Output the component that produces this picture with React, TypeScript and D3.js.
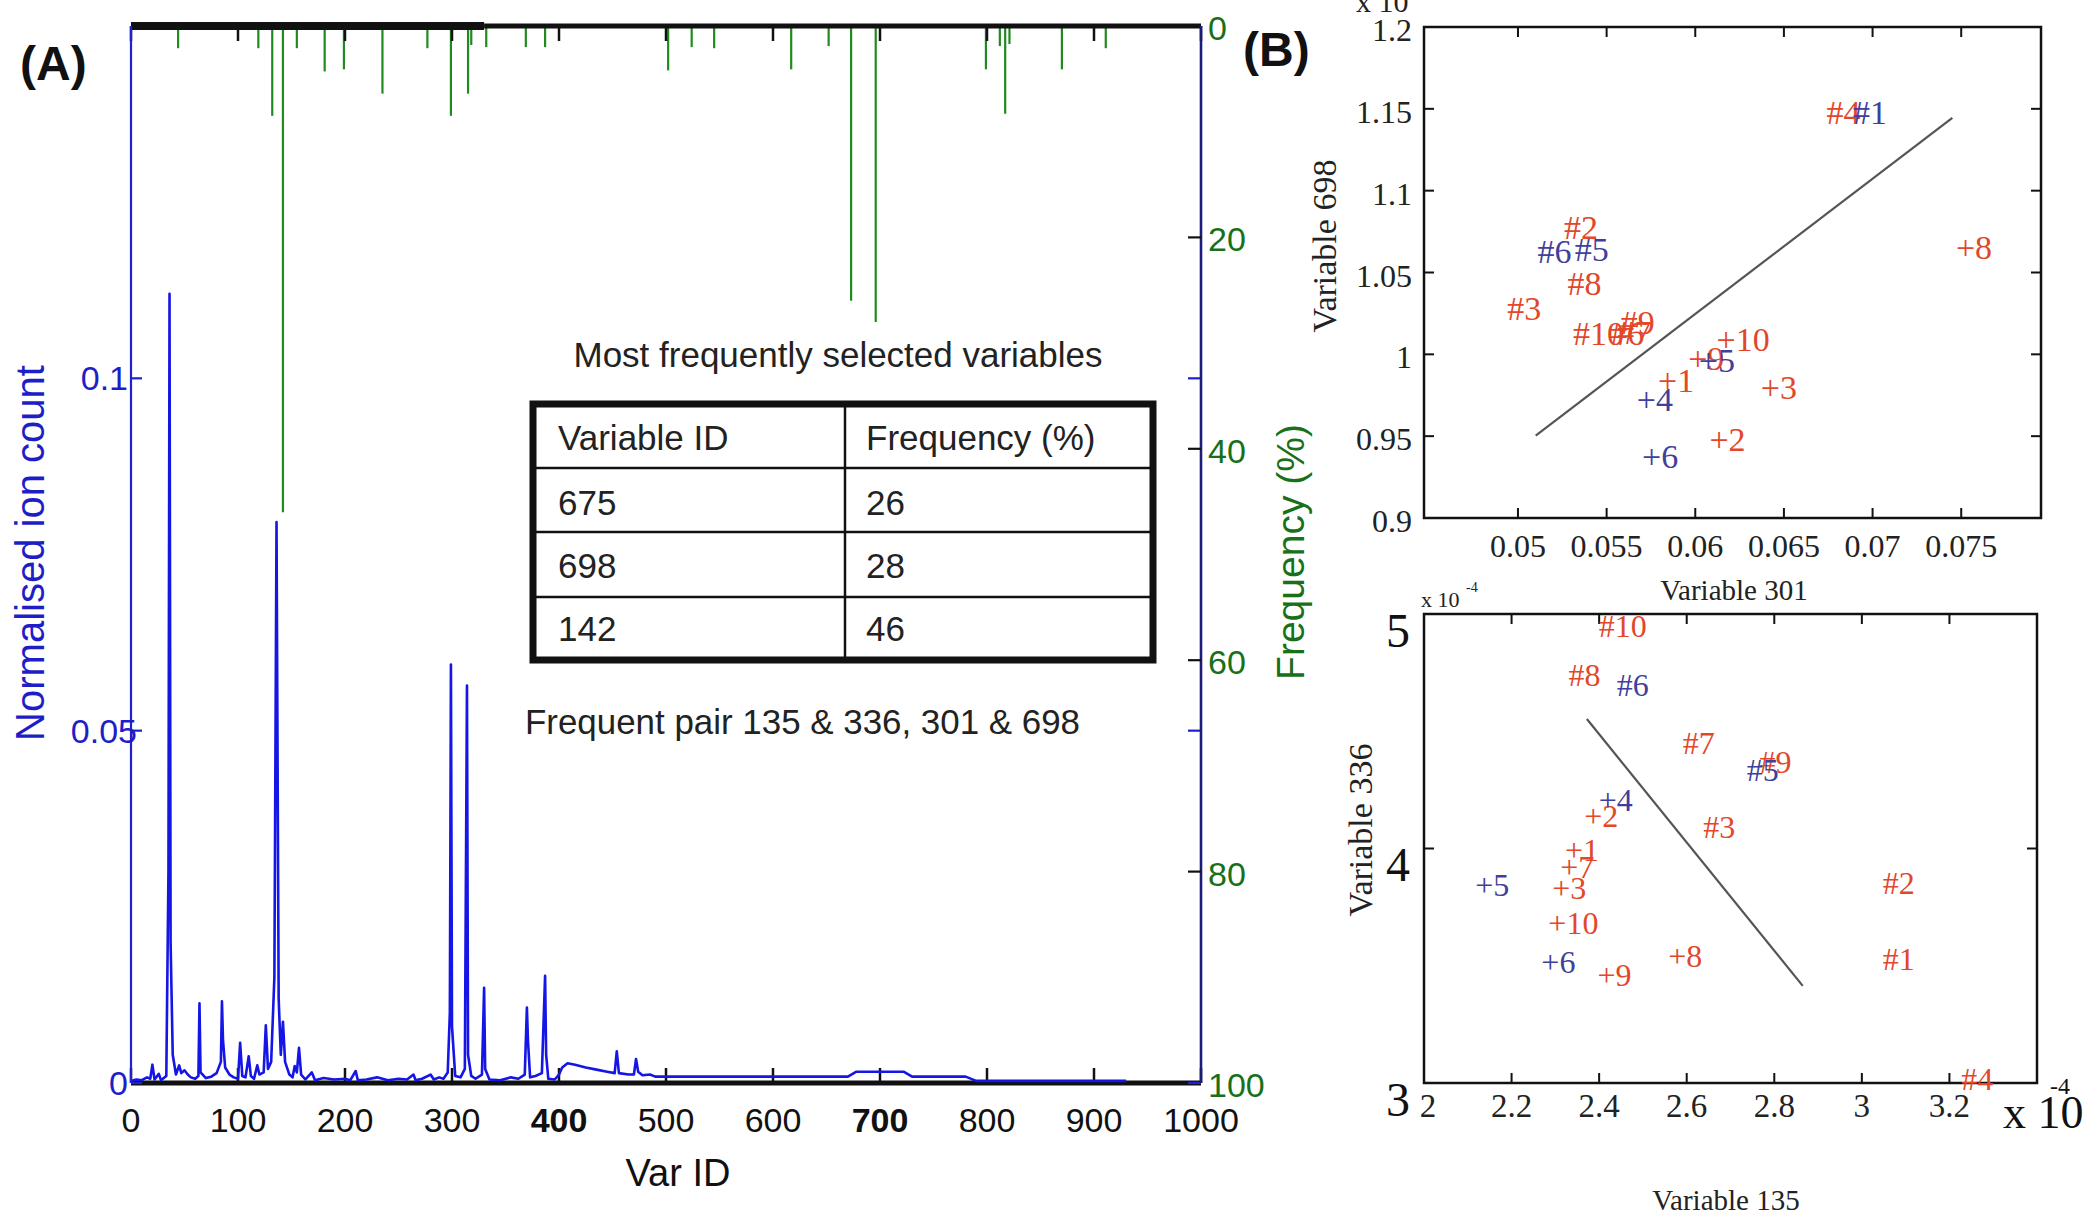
import React, { useEffect } from 'react';
import * as d3 from 'd3';

// Panel A: normalised ion count trace, [var id, value]
const ionTrace: [number, number][] = [
  [0, 0.0003], [5, 0.0005], [10, 0.0004], [15, 0.0008], [18, 0.0006], [20, 0.0026], [22, 0.0005],
  [26, 0.0013], [28, 0.0004], [33, 0.001], [35, 0.03], [36, 0.112], [37, 0.02], [39, 0.004],
  [42, 0.0012], [45, 0.0025], [47, 0.0014], [50, 0.0018], [53, 0.0012], [56, 0.0008], [60, 0.0006],
  [63, 0.001], [64, 0.0113], [65, 0.0015], [70, 0.0007], [75, 0.0009], [80, 0.0014], [84, 0.003],
  [85, 0.0116], [86, 0.006], [88, 0.0022], [92, 0.0012], [96, 0.0008], [100, 0.0006], [102, 0.0057],
  [104, 0.001], [107, 0.0008], [110, 0.0038], [112, 0.001], [115, 0.0006], [118, 0.0025], [120, 0.0012],
  [124, 0.0015], [126, 0.0082], [128, 0.002], [131, 0.003], [134, 0.015], [136, 0.0796], [138, 0.012],
  [140, 0.004], [142, 0.0087], [144, 0.003], [148, 0.0012], [151, 0.0008], [153, 0.0024], [155, 0.0015],
  [157, 0.005], [159, 0.0012], [163, 0.0005], [169, 0.0015], [172, 0.0004], [180, 0.0007], [190, 0.0005],
  [200, 0.0006], [205, 0.0004], [210, 0.0017], [212, 0.0004], [220, 0.0005], [230, 0.0008], [240, 0.0004],
  [250, 0.0006], [258, 0.0005], [264, 0.0012], [266, 0.0004], [272, 0.0006], [280, 0.0012], [283, 0.0005],
  [288, 0.0008], [292, 0.0006], [296, 0.0015], [298, 0.01], [299, 0.0594], [300, 0.008], [303, 0.001],
  [308, 0.0008], [312, 0.002], [314, 0.0564], [315, 0.004], [318, 0.001], [322, 0.0006], [328, 0.0012],
  [330, 0.0135], [331, 0.002], [335, 0.0005], [345, 0.0004], [355, 0.0008], [362, 0.0006], [368, 0.0012],
  [370, 0.0107], [371, 0.006], [373, 0.0008], [378, 0.001], [384, 0.0014], [387, 0.0152], [388, 0.004],
  [390, 0.0006], [396, 0.0005], [400, 0.0012], [403, 0.0022], [408, 0.0028], [415, 0.0026], [425, 0.0022],
  [435, 0.0019], [445, 0.0016], [452, 0.0014], [454, 0.0045], [456, 0.0014], [465, 0.0012], [470, 0.0012],
  [472, 0.0034], [474, 0.0016], [478, 0.0011], [485, 0.0012], [490, 0.0009], [500, 0.0009], [670, 0.0009],
  [678, 0.0016], [722, 0.0016], [730, 0.0009], [780, 0.0009], [790, 0.0003], [930, 0.0003],
];

// Panel A: selection frequency, [var id, %]
const freqSpikes: [number, number][] = [
  [44, 2.1], [119, 2.1], [132, 8.5], [142, 46], [155, 2.1], [181, 4.3], [199, 4.1], [235, 6.4],
  [277, 2.1], [299, 8.5], [315, 6.4], [318, 1.8], [332, 2.0], [369, 2.0], [387, 2.0], [502, 4.2],
  [524, 2.0], [545, 2.1], [617, 4.1], [652, 1.9], [673, 26], [696, 28], [799, 4.1], [812, 1.9],
  [817, 8.3], [821, 1.7], [870, 4.1], [911, 2.1],
];

const varTicks = [0, 100, 200, 300, 400, 500, 600, 700, 800, 900, 1000];
const ionTicks = [0, 0.05, 0.1];
const freqTicks = [0, 20, 40, 60, 80, 100];

const tableHeader = ['Variable ID', 'Frequency (%)'];
const tableRows = [['675', '26'], ['698', '28'], ['142', '46']];

// Panel B top: Variable 301 vs Variable 698
const b1XTicks = [0.05, 0.055, 0.06, 0.065, 0.07, 0.075];
const b1YTicks = [0.9, 0.95, 1, 1.05, 1.1, 1.15, 1.2];
const b1Red: [string, number, number][] = [
  ['#4', 0.0674, 1.148], ['#2', 0.0526, 1.0774], ['#8', 0.0528, 1.043], ['#3', 0.0494, 1.028],
  ['#10', 0.0531, 1.0125], ['#6', 0.0552, 1.0125], ['#7', 0.0556, 1.0136], ['#9', 0.0558, 1.0195],
  ['+10', 0.0612, 1.0089], ['+9', 0.0596, 0.9972], ['+1', 0.0579, 0.9843], ['+3', 0.0637, 0.9796],
  ['+2', 0.0608, 0.948], ['+8', 0.0747, 1.0652],
];
const b1Blue: [string, number, number][] = [
  ['#1', 0.0689, 1.148], ['#6', 0.0511, 1.0629], ['#5', 0.0532, 1.064],
  ['+5', 0.0602, 0.996], ['+4', 0.0567, 0.9726], ['+6', 0.057, 0.9374],
];
const b1Line: [number, number][] = [[0.051, 0.9504], [0.0745, 1.1444]];

// Panel B bottom: Variable 135 vs Variable 336 (x 10^-4)
const b2XTicks = [2, 2.2, 2.4, 2.6, 2.8, 3, 3.2];
const b2YTicks = [3, 4, 5];
const b2Red: [string, number, number][] = [
  ['#10', 2.399, 4.948], ['#8', 2.33, 4.741], ['#7', 2.591, 4.448], ['#9', 2.766, 4.371],
  ['+2', 2.366, 4.138], ['#3', 2.638, 4.091], ['+1', 2.322, 3.995], ['+7', 2.311, 3.919],
  ['+3', 2.293, 3.833], ['#2', 3.048, 3.853], ['+10', 2.284, 3.684], ['+8', 2.558, 3.543],
  ['#1', 3.048, 3.529], ['+9', 2.396, 3.46], ['#4', 3.227, 3.017],
];
const b2Blue: [string, number, number][] = [
  ['#6', 2.44, 4.698], ['#5', 2.737, 4.336], ['+4', 2.399, 4.207], ['+5', 2.117, 3.845], ['+6', 2.268, 3.517],
];
const b2Line: [number, number][] = [[2.372, 4.552], [2.865, 3.414]];

const SANS = '"Liberation Sans", Arial, sans-serif';
const SERIF = '"Liberation Serif", "Times New Roman", serif';
const RED = '#e2472a';
const NAVY = '#3f3f9c';

const App = () => {
  useEffect(() => {
    document.body.style.margin = '0';
  }, []);

  // panel A scales
  const xA = d3.scaleLinear().domain([0, 1000]).range([131, 1201]);
  const yA = d3.scaleLinear().domain([0, 0.15]).range([1083, 26]);
  const yF = d3.scaleLinear().domain([0, 100]).range([26, 1083]);
  const ionLine = d3.line<[number, number]>().x(d => xA(d[0])).y(d => yA(d[1]));

  // panel B scales
  const xB1 = d3.scaleLinear().domain([0.0447, 0.0795]).range([1424, 2041]);
  const yB1 = d3.scaleLinear().domain([0.9, 1.2]).range([518, 27]);
  const xB2 = d3.scaleLinear().domain([2, 3.4]).range([1424, 2037]);
  const yB2 = d3.scaleLinear().domain([3, 5]).range([1083, 614]);

  const frame = (x0, x1, y0, y1) => (
    <rect x={x0} y={y0} width={x1 - x0} height={y1 - y0} fill="none" stroke="#111" strokeWidth={2.5} />
  );

  const markers = (list, xs, ys, color, size) =>
    list.map(([t, vx, vy], i) => (
      <text key={color + i} x={xs(vx)} y={ys(vy)} fill={color} fontFamily={SERIF} fontSize={size}
        dominantBaseline="central">{t}</text>
    ));

  return (
    <svg width={2084} height={1215} style={{ display: 'block', background: '#fff' }}>
      {/* ---------- panel A ---------- */}
      <text x={20} y={80} fontFamily={SANS} fontWeight="bold" fontSize={48} fill="#111">(A)</text>

      {/* frequency spikes hanging from the top */}
      <g stroke="#1f8a1f" strokeWidth={2.2}>
        {freqSpikes.map(([v, f], i) => (
          <line key={i} x1={xA(v)} x2={xA(v)} y1={yF(0)} y2={yF(f)} />
        ))}
      </g>

      {/* top and bottom axes */}
      <line x1={xA(0)} x2={xA(330)} y1={yF(0)} y2={yF(0)} stroke="#111" strokeWidth={8} />
      <line x1={xA(330)} x2={xA(1000)} y1={yF(0)} y2={yF(0)} stroke="#111" strokeWidth={5} />
      <line x1={xA(0)} x2={xA(1000)} y1={yA(0)} y2={yA(0)} stroke="#111" strokeWidth={5} />
      {varTicks.map(v => (
        <g key={v} stroke="#111" strokeWidth={2.5}>
          <line x1={xA(v)} x2={xA(v)} y1={yA(0)} y2={yA(0) - 15} />
          <line x1={xA(v)} x2={xA(v)} y1={yF(0)} y2={yF(0) + 15} />
        </g>
      ))}

      {/* ion count trace */}
      <path d={ionLine(ionTrace) || ''} fill="none" stroke="#1515e6" strokeWidth={2.6} strokeLinejoin="round" />

      {/* left axis */}
      <line x1={xA(0)} x2={xA(0)} y1={yA(0)} y2={yF(0)} stroke="#2020d0" strokeWidth={2.2} />
      {ionTicks.map(v => (
        <g key={v}>
          <line x1={xA(0)} x2={xA(0) + 11} y1={yA(v)} y2={yA(v)} stroke="#2020d0" strokeWidth={2.2} />
          <line x1={xA(1000)} x2={xA(1000) - 13} y1={yA(v)} y2={yA(v)} stroke="#2020d0" strokeWidth={2.2} />
          <text x={v === 0.05 ? 137 : 128} y={yA(v)} textAnchor="end" dominantBaseline="central"
            fontFamily={SANS} fontSize={34} fill="#1e1ec8">{String(v)}</text>
        </g>
      ))}
      <text transform="translate(30,553) rotate(-90)" textAnchor="middle" dominantBaseline="central"
        fontFamily={SANS} fontSize={40} fill="#1e1ec8">Normalised ion count</text>

      {/* right axis */}
      <line x1={xA(1000)} x2={xA(1000)} y1={yF(0)} y2={yF(100)} stroke="#1b1b7a" strokeWidth={2.6} />
      {freqTicks.map(v => (
        <g key={v}>
          {v > 0 && v < 100 && (
            <line x1={xA(1000)} x2={xA(1000) - 13} y1={yF(v)} y2={yF(v)} stroke="#111" strokeWidth={2.2} />
          )}
          <text x={1208} y={yF(v) + 2} dominantBaseline="central" fontFamily={SANS} fontSize={34}
            fill="#187018">{String(v)}</text>
        </g>
      ))}
      <text transform="translate(1290,552) rotate(-90)" textAnchor="middle" dominantBaseline="central"
        fontFamily={SANS} fontSize={39} fill="#187018">Frequency (%)</text>

      {/* x tick labels */}
      {varTicks.map(v => (
        <text key={v} x={xA(v)} y={1132} textAnchor="middle" fontFamily={SANS} fontSize={34}
          fontWeight={v === 400 || v === 700 ? 'bold' : 'normal'} fill="#111">{String(v)}</text>
      ))}
      <text x={678} y={1186} textAnchor="middle" fontFamily={SANS} fontSize={38} fill="#111">Var ID</text>

      {/* table */}
      <text x={838} y={354} textAnchor="middle" dominantBaseline="central" fontFamily={SANS} fontSize={35}
        fill="#222" textLength={529} lengthAdjust="spacingAndGlyphs">Most frequently selected variables</text>
      <g stroke="#111">
        <line x1={845} x2={845} y1={404} y2={660} strokeWidth={2.5} />
        <line x1={533} x2={1153} y1={468} y2={468} strokeWidth={2.5} />
        <line x1={533} x2={1153} y1={532} y2={532} strokeWidth={2.5} />
        <line x1={533} x2={1153} y1={597} y2={597} strokeWidth={2.5} />
        <rect x={533} y={404} width={620} height={256} fill="none" strokeWidth={7} />
      </g>
      <g fontFamily={SANS} fontSize={35} fill="#222">
        <text x={558} y={437} dominantBaseline="central">{tableHeader[0]}</text>
        <text x={866} y={437} dominantBaseline="central">{tableHeader[1]}</text>
        {tableRows.map((r, i) => (
          <g key={i}>
            <text x={558} y={502 + i * 63} dominantBaseline="central">{r[0]}</text>
            <text x={866} y={502 + i * 63} dominantBaseline="central">{r[1]}</text>
          </g>
        ))}
      </g>
      <text x={525} y={721} dominantBaseline="central" fontFamily={SANS} fontSize={35} fill="#222"
        textLength={555} lengthAdjust="spacingAndGlyphs">Frequent pair 135 &amp; 336, 301 &amp; 698</text>

      {/* ---------- panel B ---------- */}
      <text x={1243} y={66} fontFamily={SANS} fontWeight="bold" fontSize={48} fill="#111">(B)</text>

      {/* top scatter */}
      <text x={1356} y={12} fontFamily={SERIF} fontSize={30} fill="#222">x 10</text>
      {frame(1424, 2041, 27, 518)}
      {b1XTicks.map(v => (
        <g key={v}>
          <line x1={xB1(v)} x2={xB1(v)} y1={518} y2={508} stroke="#111" strokeWidth={2} />
          <line x1={xB1(v)} x2={xB1(v)} y1={27} y2={37} stroke="#111" strokeWidth={2} />
          <text x={xB1(v)} y={546} textAnchor="middle" dominantBaseline="central" fontFamily={SERIF}
            fontSize={32} fill="#222">{String(v)}</text>
        </g>
      ))}
      {b1YTicks.map(v => (
        <g key={v}>
          <line x1={1424} x2={1434} y1={yB1(v)} y2={yB1(v)} stroke="#111" strokeWidth={2} />
          <line x1={2041} x2={2031} y1={yB1(v)} y2={yB1(v)} stroke="#111" strokeWidth={2} />
          <text x={1412} y={yB1(v) + 3} textAnchor="end" dominantBaseline="central" fontFamily={SERIF}
            fontSize={32} fill="#222">{String(v)}</text>
        </g>
      ))}
      <line x1={xB1(b1Line[0][0])} y1={yB1(b1Line[0][1])} x2={xB1(b1Line[1][0])} y2={yB1(b1Line[1][1])}
        stroke="#555" strokeWidth={2.2} />
      {markers(b1Red, xB1, yB1, RED, 34)}
      {markers(b1Blue, xB1, yB1, NAVY, 34)}
      <text transform="translate(1324,246) rotate(-90)" textAnchor="middle" dominantBaseline="central"
        fontFamily={SERIF} fontSize={34} fill="#222">Variable 698</text>
      <text x={1734} y={590} textAnchor="middle" dominantBaseline="central" fontFamily={SERIF} fontSize={29}
        fill="#222">Variable 301</text>

      {/* bottom scatter */}
      <text x={1421} y={607} fontFamily={SERIF} fontSize={22} fill="#222">x 10</text>
      <text x={1466} y={592} fontFamily={SERIF} fontSize={14} fill="#222">-4</text>
      {frame(1424, 2037, 614, 1083)}
      {b2XTicks.map(v => (
        <g key={v}>
          <line x1={xB2(v)} x2={xB2(v)} y1={1083} y2={1073} stroke="#111" strokeWidth={2} />
          <line x1={xB2(v)} x2={xB2(v)} y1={614} y2={624} stroke="#111" strokeWidth={2} />
          <text x={xB2(v) + (v === 2 ? 4 : 0)} y={1106} textAnchor="middle" dominantBaseline="central"
            fontFamily={SERIF} fontSize={33} fill="#222">{String(v)}</text>
        </g>
      ))}
      {b2YTicks.map(v => (
        <g key={v}>
          <line x1={1424} x2={1434} y1={yB2(v)} y2={yB2(v)} stroke="#111" strokeWidth={2} />
          <line x1={2037} x2={2027} y1={yB2(v)} y2={yB2(v)} stroke="#111" strokeWidth={2} />
          <text x={1410} y={yB2(v) + 16} textAnchor="end" dominantBaseline="central" fontFamily={SERIF}
            fontSize={48} fill="#111">{String(v)}</text>
        </g>
      ))}
      <line x1={xB2(b2Line[0][0])} y1={yB2(b2Line[0][1])} x2={xB2(b2Line[1][0])} y2={yB2(b2Line[1][1])}
        stroke="#555" strokeWidth={2.2} />
      {markers(b2Red, xB2, yB2, RED, 32)}
      {markers(b2Blue, xB2, yB2, NAVY, 32)}
      <text x={2003} y={1128} fontFamily={SERIF} fontSize={46} fill="#111">x 10</text>
      <text x={2050} y={1094} fontFamily={SERIF} fontSize={24} fill="#111">-4</text>
      <text transform="translate(1360,830) rotate(-90)" textAnchor="middle" dominantBaseline="central"
        fontFamily={SERIF} fontSize={34} fill="#222">Variable 336</text>
      <text x={1726} y={1200} textAnchor="middle" dominantBaseline="central" fontFamily={SERIF} fontSize={29}
        fill="#222">Variable 135</text>
    </svg>
  );
};

export default App;
